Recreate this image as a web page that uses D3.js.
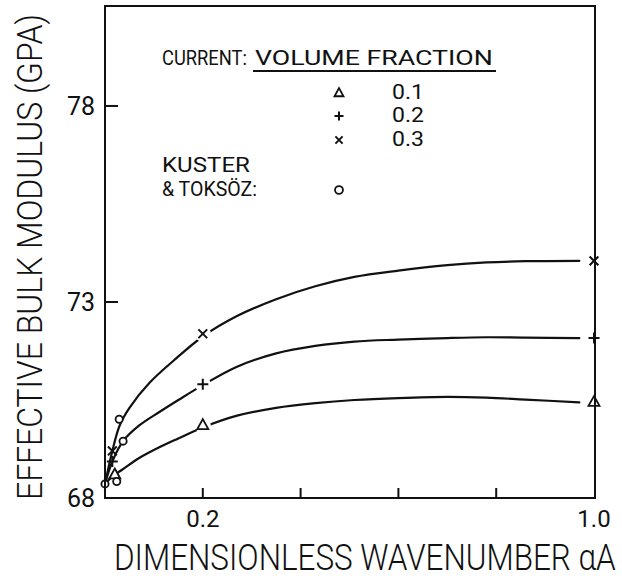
<!DOCTYPE html>
<html>
<head>
<meta charset="utf-8">
<script src="https://cdn.jsdelivr.net/npm/d3@7"></script>
<style>
  html, body { margin: 0; padding: 0; background: #fff; }
  svg { display: block; }
  text { font-family: Roboto, "Liberation Sans", Arial, sans-serif; font-weight: 300; fill: #111; }
  .legend text, text.tick { font-weight: 400; }
</style>
</head>
<body>
<svg id="chart" width="622" height="584"></svg>
<script>
// Axis setup
const xDomain = [0, 1.0];
const yDomain = [68, 80.55];
const xTickValues = [0.2, 0.4, 0.6, 0.8, 1.0];
const xTickLabels = ["0.2", "", "", "", "1.0"];
const yTickValues = [68, 73, 78];
const yTickLabels = ["68", "73", "78"];

// Volume fractions (legend) and computed points for each fraction
const fractionLabels = ["0.1", "0.2", "0.3"];
const points01 = [[0.020, 68.60], [0.2, 69.86], [1.0, 70.45]];
const points02 = [[0.015, 68.93], [0.2, 70.90], [1.0, 72.08]];
const points03 = [[0.015, 69.20], [0.2, 72.19], [1.0, 74.05]];

// Kuster & Toksöz values
const kusterToksoz = [[0.0, 68.36], [0.024, 68.42], [0.037, 69.45], [0.029, 70.01]];

// Smooth fitted curves through the computed results
const curve01 = [[0, 68.36], [0.020, 68.60], [0.035, 68.72], [0.07, 69.02], [0.112, 69.30],
  [0.15, 69.52], [0.2, 69.80], [0.27, 70.10], [0.35, 70.30], [0.43, 70.42], [0.51, 70.50],
  [0.60, 70.55], [0.70, 70.58], [0.78, 70.56], [0.86, 70.51], [0.97, 70.44]];
const curve02 = [[0, 68.36], [0.015, 68.93], [0.037, 69.45], [0.07, 69.85], [0.112, 70.20],
  [0.15, 70.50], [0.2, 70.88], [0.27, 71.35], [0.35, 71.69], [0.43, 71.88], [0.51, 71.99],
  [0.60, 72.04], [0.70, 72.08], [0.78, 72.10], [0.86, 72.09], [0.97, 72.08]];
const curve03 = [[0, 68.36], [0.015, 69.20], [0.03, 69.85], [0.05, 70.30], [0.092, 70.95],
  [0.14, 71.50], [0.2, 72.12], [0.27, 72.64], [0.35, 73.07], [0.43, 73.40], [0.51, 73.64],
  [0.60, 73.80], [0.70, 73.94], [0.78, 74.01], [0.86, 74.04], [0.97, 74.05]];

const svg = d3.select("#chart");
const x = d3.scaleLinear().domain(xDomain).range([105, 594]);
const y = d3.scaleLinear().domain(yDomain).range([498, 6]);
const ink = "#111";

// Places a text so that it spans exactly `width` pixels, scaling it horizontally
function fitText(parent, str, px, py, size, width, angle = 0) {
  const g = parent.append("g");
  const t = g.append("text").attr("font-size", size).text(str);
  const natural = t.node().getComputedTextLength();
  g.attr("transform", `translate(${px},${py}) rotate(${angle}) scale(${width / natural},1)`);
  return t;
}

// Fitted curves
const line = d3.line().x(d => x(d[0])).y(d => y(d[1])).curve(d3.curveCatmullRom.alpha(0.5));
[curve01, curve02, curve03].forEach(c => {
  svg.append("path").attr("d", line(c))
    .attr("fill", "none").attr("stroke", ink).attr("stroke-width", 2.2)
    .attr("stroke-linecap", "round");
});

// Marker shapes
function drawMarker(g, kind, cx, cy, s) {
  if (kind === "tri") {
    const h = s * 0.9;
    g.append("path")
      .attr("d", `M${cx},${cy - h * 0.6}L${cx + s * 0.5},${cy + h * 0.4}L${cx - s * 0.5},${cy + h * 0.4}Z`)
      .attr("fill", "#fff").attr("stroke", ink).attr("stroke-width", 1.8);
  } else if (kind === "plus") {
    g.append("path")
      .attr("d", `M${cx - s / 2},${cy}H${cx + s / 2}M${cx},${cy - s / 2}V${cy + s / 2}`)
      .attr("stroke", ink).attr("stroke-width", 2);
  } else if (kind === "cross") {
    const r = s * 0.4;
    g.append("path")
      .attr("d", `M${cx - r},${cy - r}L${cx + r},${cy + r}M${cx - r},${cy + r}L${cx + r},${cy - r}`)
      .attr("stroke", ink).attr("stroke-width", 2);
  } else {
    g.append("circle").attr("cx", cx).attr("cy", cy).attr("r", s * 0.36)
      .attr("fill", "#fff").attr("stroke", ink).attr("stroke-width", 1.8);
  }
}

// Gaps in the curves around the main markers
const markerLayer = svg.append("g");
const series = [[points01, "tri"], [points02, "plus"], [points03, "cross"]];
series.forEach(([pts, kind]) => {
  pts.filter(p => p[0] >= 0.1).forEach(p => {
    markerLayer.append("circle").attr("cx", x(p[0])).attr("cy", y(p[1])).attr("r", 8).attr("fill", "#fff");
  });
});
series.forEach(([pts, kind]) => {
  pts.forEach(p => drawMarker(markerLayer, kind, x(p[0]), y(p[1]), 11));
});
kusterToksoz.forEach(p => drawMarker(markerLayer, "circle", x(p[0]), y(p[1]), 10));

// Frame
svg.append("rect")
  .attr("x", x(0)).attr("y", y(yDomain[1]))
  .attr("width", x(1.0) - x(0) + 1).attr("height", y(68) - y(yDomain[1]))
  .attr("fill", "none").attr("stroke", ink).attr("stroke-width", 2);

// X ticks (inward) and labels
xTickValues.forEach((v, i) => {
  if (v < 1.0) {
    svg.append("line").attr("x1", x(v)).attr("x2", x(v)).attr("y1", y(68)).attr("y2", y(68) - 10)
      .attr("stroke", ink).attr("stroke-width", 2);
  }
  if (xTickLabels[i]) {
    svg.append("text").attr("class", "tick").attr("x", x(v)).attr("y", 527).attr("text-anchor", "middle")
      .attr("font-size", 24).text(xTickLabels[i]);
  }
});

// Y ticks (inward) and labels
yTickValues.forEach((v, i) => {
  if (v > 68) {
    svg.append("line").attr("x1", x(0)).attr("x2", x(0) + 13).attr("y1", y(v)).attr("y2", y(v))
      .attr("stroke", ink).attr("stroke-width", 2);
  }
  svg.append("text").attr("class", "tick").attr("x", 95).attr("y", y(v) + 9).attr("text-anchor", "end")
    .attr("font-size", 25).text(yTickLabels[i]);
});

// Axis titles
fitText(svg, "DIMENSIONLESS WAVENUMBER αA", 114, 570, 36, 502);
fitText(svg, "EFFECTIVE BULK MODULUS (GPA)", 42, 500, 36, 486, -90);

// Legend
const lg = svg.append("g").attr("class", "legend");
fitText(lg, "CURRENT:", 162, 65, 20, 85);
fitText(lg, "VOLUME FRACTION", 255, 65, 20, 238);
lg.append("line").attr("x1", 253).attr("x2", 496).attr("y1", 71).attr("y2", 71)
  .attr("stroke", ink).attr("stroke-width", 2);
const legendKinds = ["tri", "plus", "cross"];
const legendRows = [99, 122, 146];
fractionLabels.forEach((lab, i) => {
  drawMarker(lg, legendKinds[i], 339, legendRows[i] - 6, 9);
  fitText(lg, lab, 392, legendRows[i], 20, 32);
});
fitText(lg, "KUSTER", 162, 172, 20, 88);
fitText(lg, "& TOKSÖZ:", 162, 196, 20, 95);
drawMarker(lg, "circle", 339, 190, 11);
</script>
</body>
</html>
